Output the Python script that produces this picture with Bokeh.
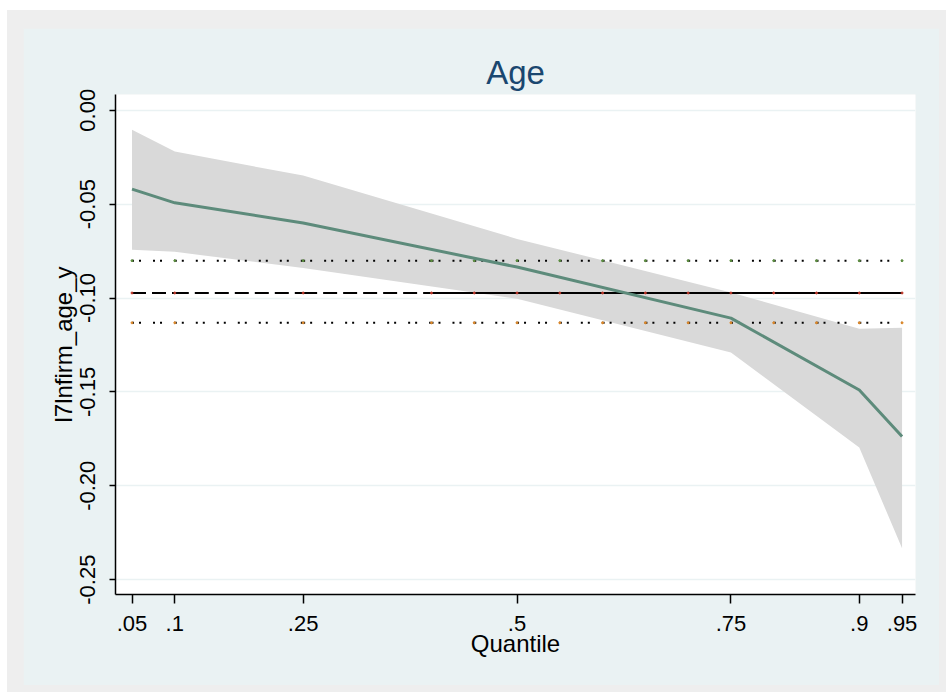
from bokeh.plotting import figure
from bokeh.models import FixedTicker, Range1d
from bokeh.layouts import column
from bokeh.embed import file_html
from bokeh.resources import INLINE

# ---- data ----
quantiles = [0.05, 0.10, 0.25, 0.50, 0.75, 0.90, 0.95]
coef      = [-0.0420, -0.0493, -0.0600, -0.0835, -0.1107, -0.1490, -0.1738]
ci_upper  = [-0.0104, -0.0220, -0.0348, -0.0685, -0.0970, -0.1164, -0.1158]
ci_lower  = [-0.0743, -0.0754, -0.0840, -0.1004, -0.1290, -0.1796, -0.2333]

ols_x     = [0.05, 0.10, 0.25, 0.40, 0.45, 0.50, 0.55, 0.60, 0.65, 0.70,
             0.75, 0.80, 0.85, 0.90, 0.95]
ols_coef  = -0.0973
ols_upper = -0.0801
ols_lower = -0.1132
ols_dash_end = 0.40

x_ticks = [0.05, 0.10, 0.25, 0.50, 0.75, 0.90, 0.95]
x_tick_labels = [".05", ".1", ".25", ".5", ".75", ".9", ".95"]
y_ticks = [0.00, -0.05, -0.10, -0.15, -0.20, -0.25]
y_tick_labels = ["0.00", "-0.05", "-0.10", "-0.15", "-0.20", "-0.25"]

title_text = "Age"
x_title = "Quantile"
y_title = "l7lnfirm_age_y"

FONT = "Liberation Sans"
BG = "#eaf2f3"

p = figure(width=916, height=657, output_backend="svg", toolbar_location=None,
           x_range=Range1d(0.0307, 0.9657), y_range=Range1d(-0.2579, 0.0084),
           min_border_left=92, min_border_right=24, min_border_top=66,
           min_border_bottom=91, title=title_text)
p.border_fill_color = BG
p.background_fill_color = "white"
p.outline_line_color = None

p.title.align = "center"
p.title.text_font = FONT
p.title.text_font_size = "33px"
p.title.text_font_style = "normal"
p.title.text_color = "#1a476f"
p.title.standoff = 7

# band
p.varea(x=quantiles, y1=ci_lower, y2=ci_upper, fill_color="#d9d9d9", fill_alpha=1.0)

# OLS lines, segment by segment
segs_x = [[ols_x[i], ols_x[i + 1]] for i in range(len(ols_x) - 1)]
dash_x = [s for s in segs_x if s[1] <= ols_dash_end]
solid_x = [s for s in segs_x if s[0] >= ols_dash_end]
p.multi_line(xs=dash_x, ys=[[ols_coef, ols_coef]] * len(dash_x),
             line_color="black", line_width=2, line_dash="14 6")
p.multi_line(xs=solid_x, ys=[[ols_coef, ols_coef]] * len(solid_x),
             line_color="black", line_width=2)
for val in (ols_upper, ols_lower):
    p.multi_line(xs=segs_x, ys=[[val, val]] * len(segs_x),
                 line_color="black", line_width=2, line_dash="2 5 2 12")

p.scatter(ols_x, [ols_upper] * len(ols_x), size=2, color="#5c8f3f")
p.scatter(ols_x, [ols_lower] * len(ols_x), size=2, color="#e08a2a")
p.scatter(ols_x, [ols_coef] * len(ols_x), size=2, color="#c0392b")

# quantile coefficient line
p.line(quantiles, coef, line_color="#5d8b7b", line_width=3)

# axes
p.xgrid.visible = False
p.ygrid.ticker = FixedTicker(ticks=y_ticks)
p.ygrid.grid_line_color = BG
p.ygrid.grid_line_width = 1.5

p.xaxis.ticker = FixedTicker(ticks=x_ticks)
p.xaxis.major_label_overrides = dict(zip(x_ticks, x_tick_labels))
p.yaxis.ticker = FixedTicker(ticks=y_ticks)
p.yaxis.major_label_overrides = dict(zip(y_ticks, y_tick_labels))
p.yaxis.major_label_orientation = "vertical"

p.xaxis.axis_label = x_title
p.yaxis.axis_label = y_title

for ax in (p.xaxis[0], p.yaxis[0]):
    ax.axis_line_color = "black"
    ax.axis_line_width = 1.5
    ax.major_tick_line_color = "black"
    ax.major_tick_line_width = 1.5
    ax.major_tick_in = 0
    ax.minor_tick_line_color = None
    ax.major_label_text_font = FONT
    ax.major_label_text_font_size = "22px"
    ax.major_label_text_color = "black"
    ax.axis_label_text_font = FONT
    ax.axis_label_text_font_size = "24px"
    ax.axis_label_text_font_style = "normal"
    ax.axis_label_text_color = "black"

p.xaxis.major_tick_out = 9
p.yaxis.major_tick_out = 6
p.xaxis.major_label_standoff = 12
p.yaxis.major_label_standoff = 14
p.xaxis.axis_label_standoff = -4
p.yaxis.axis_label_standoff = 1

inner = column(p, styles={"background-color": "#eeeeee",
                          "padding": "18px 7px 7px 16px"})
layout = column(inner, styles={"background-color": "white",
                               "padding": "10px 0px 0px 7px"})

open("out.html", "w").write(file_html(layout, INLINE))
